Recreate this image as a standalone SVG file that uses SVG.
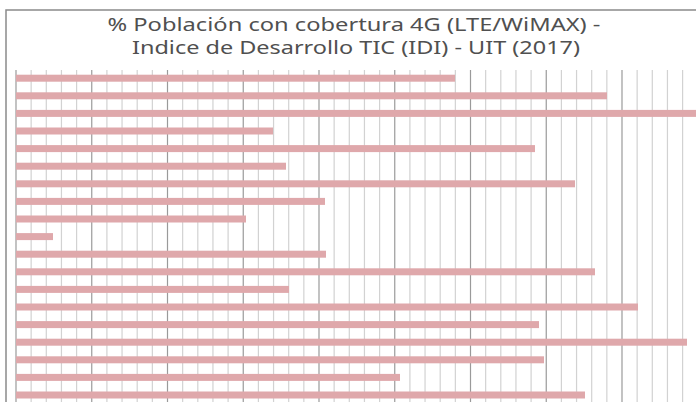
<svg xmlns="http://www.w3.org/2000/svg" width="696" height="402" viewBox="0 0 696 402">
<style>
.title{font-family:"Noto Sans","DejaVu Sans",sans-serif;font-size:18px;font-weight:400;fill:#505050;text-anchor:middle}
.minor{stroke:#d2d2d2;stroke-width:1.2}
.major{stroke:#9a9a9a;stroke-width:1.2}
.bar{fill:#dfa8ab}
</style>
<rect x="0" y="0" width="696" height="402" fill="#fff"/>
<rect id="frame" x="6" y="10" width="720" height="420" fill="#fff" stroke="#8a8a8a" stroke-width="1.5"/>
<g id="title">
<text class="title" x="354" y="30.5" textLength="493" lengthAdjust="spacingAndGlyphs">% Población con cobertura 4G (LTE/WiMAX) -</text>
<text class="title" x="356" y="54" textLength="448" lengthAdjust="spacingAndGlyphs">Indice de Desarrollo TIC (IDI) - UIT (2017)</text>
</g>
<g id="grid">
<line class="major" x1="16" y1="70" x2="16" y2="402"/>
<line class="minor" x1="31.15" y1="70" x2="31.15" y2="402"/>
<line class="minor" x1="46.3" y1="70" x2="46.3" y2="402"/>
<line class="minor" x1="61.45" y1="70" x2="61.45" y2="402"/>
<line class="minor" x1="76.6" y1="70" x2="76.6" y2="402"/>
<line class="major" x1="91.75" y1="70" x2="91.75" y2="402"/>
<line class="minor" x1="106.9" y1="70" x2="106.9" y2="402"/>
<line class="minor" x1="122.05" y1="70" x2="122.05" y2="402"/>
<line class="minor" x1="137.2" y1="70" x2="137.2" y2="402"/>
<line class="minor" x1="152.35" y1="70" x2="152.35" y2="402"/>
<line class="major" x1="167.5" y1="70" x2="167.5" y2="402"/>
<line class="minor" x1="182.65" y1="70" x2="182.65" y2="402"/>
<line class="minor" x1="197.8" y1="70" x2="197.8" y2="402"/>
<line class="minor" x1="212.95" y1="70" x2="212.95" y2="402"/>
<line class="minor" x1="228.1" y1="70" x2="228.1" y2="402"/>
<line class="major" x1="243.25" y1="70" x2="243.25" y2="402"/>
<line class="minor" x1="258.4" y1="70" x2="258.4" y2="402"/>
<line class="minor" x1="273.55" y1="70" x2="273.55" y2="402"/>
<line class="minor" x1="288.7" y1="70" x2="288.7" y2="402"/>
<line class="minor" x1="303.85" y1="70" x2="303.85" y2="402"/>
<line class="major" x1="319" y1="70" x2="319" y2="402"/>
<line class="minor" x1="334.15" y1="70" x2="334.15" y2="402"/>
<line class="minor" x1="349.3" y1="70" x2="349.3" y2="402"/>
<line class="minor" x1="364.45" y1="70" x2="364.45" y2="402"/>
<line class="minor" x1="379.6" y1="70" x2="379.6" y2="402"/>
<line class="major" x1="394.75" y1="70" x2="394.75" y2="402"/>
<line class="minor" x1="409.9" y1="70" x2="409.9" y2="402"/>
<line class="minor" x1="425.05" y1="70" x2="425.05" y2="402"/>
<line class="minor" x1="440.2" y1="70" x2="440.2" y2="402"/>
<line class="minor" x1="455.35" y1="70" x2="455.35" y2="402"/>
<line class="major" x1="470.5" y1="70" x2="470.5" y2="402"/>
<line class="minor" x1="485.65" y1="70" x2="485.65" y2="402"/>
<line class="minor" x1="500.8" y1="70" x2="500.8" y2="402"/>
<line class="minor" x1="515.95" y1="70" x2="515.95" y2="402"/>
<line class="minor" x1="531.1" y1="70" x2="531.1" y2="402"/>
<line class="major" x1="546.25" y1="70" x2="546.25" y2="402"/>
<line class="minor" x1="561.4" y1="70" x2="561.4" y2="402"/>
<line class="minor" x1="576.55" y1="70" x2="576.55" y2="402"/>
<line class="minor" x1="591.7" y1="70" x2="591.7" y2="402"/>
<line class="minor" x1="606.85" y1="70" x2="606.85" y2="402"/>
<line class="major" x1="622" y1="70" x2="622" y2="402"/>
<line class="minor" x1="637.15" y1="70" x2="637.15" y2="402"/>
<line class="minor" x1="652.3" y1="70" x2="652.3" y2="402"/>
<line class="minor" x1="667.45" y1="70" x2="667.45" y2="402"/>
<line class="minor" x1="682.6" y1="70" x2="682.6" y2="402"/>
</g>
<g id="bars">
<rect class="bar" x="16" y="74.7" width="439" height="7"/>
<rect class="bar" x="16" y="92.3" width="591" height="7"/>
<rect class="bar" x="16" y="109.9" width="684" height="7"/>
<rect class="bar" x="16" y="127.5" width="257" height="7"/>
<rect class="bar" x="16" y="145.1" width="519" height="7"/>
<rect class="bar" x="16" y="162.7" width="270" height="7"/>
<rect class="bar" x="16" y="180.3" width="559" height="7"/>
<rect class="bar" x="16" y="197.9" width="309" height="7"/>
<rect class="bar" x="16" y="215.5" width="230" height="7"/>
<rect class="bar" x="16" y="233.1" width="37" height="7"/>
<rect class="bar" x="16" y="250.7" width="310" height="7"/>
<rect class="bar" x="16" y="268.3" width="579" height="7"/>
<rect class="bar" x="16" y="285.9" width="273" height="7"/>
<rect class="bar" x="16" y="303.5" width="622" height="7"/>
<rect class="bar" x="16" y="321.1" width="523" height="7"/>
<rect class="bar" x="16" y="338.7" width="671" height="7"/>
<rect class="bar" x="16" y="356.3" width="528" height="7"/>
<rect class="bar" x="16" y="373.9" width="384" height="7"/>
<rect class="bar" x="16" y="391.5" width="569" height="7"/>
</g>
</svg>
